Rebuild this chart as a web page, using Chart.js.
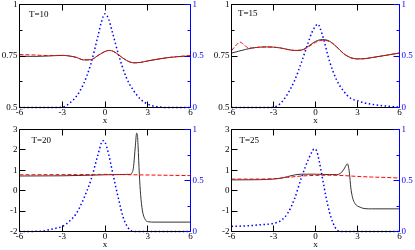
<!DOCTYPE html>
<html>
<head>
<meta charset="utf-8">
<script src="https://cdn.jsdelivr.net/npm/chart.js@4.4.0/dist/chart.umd.min.js"></script>
<style>
  html, body { margin: 0; padding: 0; background: #fff; }
  #wrap { position: relative; width: 415px; height: 250px; }
  #wrap canvas { position: absolute; left: 0; top: 0; width: 415px; height: 250px; }
</style>
</head>
<body>
<div id="wrap">
  <canvas id="c10" width="415" height="250"></canvas>
  <canvas id="c15" width="415" height="250"></canvas>
  <canvas id="c20" width="415" height="250"></canvas>
  <canvas id="c25" width="415" height="250"></canvas>
</div>
<script>
// ---- tick labels ----
const xTicks = [-6, -3, 0, 3, 6];
const leftMajorTop = [0.5, 0.75, 1];       // T=10, T=15 left axis
const leftMajorBottom = [-2, -1, 0, 1, 2, 3]; // T=20, T=25 left axis
const rightMajor = [0, 0.5, 1];

// ---- T=10 ----
const xK10 = [-6, -5, -4, -3, -2.5, -2, -1.5, -1, -0.5, 0, 0.3, 0.6, 1, 1.5, 2, 2.5, 3, 4, 5, 6];
const black10 = [0.749, 0.748, 0.750, 0.753, 0.750, 0.743, 0.731, 0.732, 0.752, 0.772, 0.777, 0.772, 0.753, 0.729, 0.717, 0.719, 0.726, 0.738, 0.746, 0.750];
const red10 = [0.757, 0.755, 0.752, 0.753, 0.750, 0.743, 0.731, 0.732, 0.752, 0.772, 0.777, 0.772, 0.753, 0.729, 0.717, 0.719, 0.726, 0.738, 0.747, 0.752];
const xB10 = [-6, -3.5, -3, -2.5, -2, -1.5, -1, -0.5, -0.25, 0, 0.25, 0.5, 1, 1.5, 2, 2.5, 3, 3.5, 4, 4.5, 6];
const blue10 = [0, 0, 0.003, 0.04, 0.11, 0.23, 0.42, 0.69, 0.83, 0.91, 0.86, 0.74, 0.49, 0.29, 0.165, 0.08, 0.033, 0.012, 0.002, 0, 0];

// ---- T=15 ----
const xK15 = [-6, -5.5, -5, -4.5, -4, -3.5, -3, -2.5, -2, -1.5, -1, -0.5, 0, 0.5, 1, 1.5, 2, 2.5, 3, 3.5, 4, 5, 6];
const black15 = [0.764, 0.773, 0.782, 0.789, 0.793, 0.794, 0.793, 0.789, 0.782, 0.777, 0.779, 0.798, 0.821, 0.830, 0.822, 0.795, 0.762, 0.742, 0.736, 0.737, 0.742, 0.753, 0.764];
const xR15 = [-6, -5.7, -5.4, -5.1, -4.8, -4.5, -4, -3.5, -3, -2.5, -2, -1.5, -1, -0.5, 0, 0.5, 1, 1.5, 2, 2.5, 3, 3.5, 4, 5, 6];
const red15 = [0.776, 0.800, 0.817, 0.805, 0.789, 0.789, 0.793, 0.794, 0.793, 0.789, 0.782, 0.777, 0.778, 0.795, 0.816, 0.826, 0.820, 0.795, 0.762, 0.742, 0.736, 0.737, 0.742, 0.753, 0.765];
const xB15 = [-6, -3.5, -3, -2.5, -2, -1.5, -1, -0.5, -0.25, 0, 0.15, 0.5, 1, 1.5, 2, 2.5, 3, 3.5, 4, 5, 6];
const blue15 = [0, 0, 0.003, 0.04, 0.13, 0.26, 0.44, 0.64, 0.73, 0.79, 0.81, 0.70, 0.45, 0.27, 0.16, 0.09, 0.065, 0.045, 0.032, 0.014, 0.003];

// ---- T=20 ----
const xK20 = [-6, -3, -1, 0, 1, 1.5, 1.76, 1.88, 1.99, 2.06, 2.13, 2.22, 2.27, 2.32, 2.41, 2.5, 2.62, 2.81, 3.04, 3.5, 6];
const black20 = [0.72, 0.73, 0.76, 0.78, 0.79, 0.80, 0.80, 0.86, 1.1, 1.6, 2.2, 2.82, 2.75, 2.2, 0.8, -0.2, -0.95, -1.40, -1.52, -1.54, -1.54];
const xR20 = [-6, -2, 0, 2, 4, 6];
const red20 = [0.78, 0.79, 0.80, 0.78, 0.76, 0.74];
const xB20 = [-6, -4.5, -4, -3.5, -3, -2.5, -2, -1.5, -1, -0.5, -0.25, -0.15, 0, 0.25, 0.5, 0.75, 1, 1.25, 1.5, 1.75, 2, 2.5, 6];
const blue20 = [0, 0.003, 0.015, 0.03, 0.05, 0.10, 0.18, 0.32, 0.50, 0.75, 0.87, 0.89, 0.875, 0.76, 0.60, 0.44, 0.29, 0.15, 0.065, 0.015, 0.002, 0, 0];

// ---- T=25 ----
const xK25 = [-6, -4, -3, -2.5, -2, -1.5, -1, 0, 1, 1.5, 1.76, 2.0, 2.15, 2.28, 2.36, 2.43, 2.52, 2.64, 2.83, 3.19, 3.54, 4, 6];
const black25 = [0.53, 0.54, 0.57, 0.61, 0.69, 0.77, 0.81, 0.81, 0.79, 0.79, 0.84, 1.02, 1.2, 1.32, 1.15, 0.83, 0.17, -0.32, -0.64, -0.81, -0.88, -0.89, -0.89];
const xR25 = [-6, -4, -3, -2, -1, 0, 1, 2, 3, 4, 5, 6];
const red25 = [0.57, 0.57, 0.59, 0.65, 0.72, 0.75, 0.76, 0.74, 0.70, 0.67, 0.65, 0.62];
const xB25 = [-6, -5, -4, -3, -2.5, -2, -1.5, -1, -0.5, -0.25, -0.1, 0.1, 0.25, 0.5, 0.75, 1, 1.25, 1.5, 1.75, 2, 6];
const blue25 = [0.05, 0.055, 0.065, 0.08, 0.105, 0.175, 0.32, 0.53, 0.71, 0.78, 0.81, 0.785, 0.70, 0.52, 0.34, 0.19, 0.085, 0.02, 0.002, 0, 0];

const BLUE = '#0000ff';
Chart.defaults.font.family = '"Liberation Serif", "Times New Roman", serif';
Chart.defaults.font.size = 9;
Chart.defaults.color = '#000';

const pts = (xs, ys) => xs.map((x, i) => ({ x: x, y: ys[i] }));

// inward ticks, frame and the T= label
const frameTicks = {
    id: 'frameTicks',
    afterDraw(chart, args, opts) {
        const { ctx, chartArea: a, scales } = chart;
        const snap = v => Math.round(v - 0.5) + 0.5;
        ctx.save();
        ctx.lineWidth = 1;
        ctx.strokeStyle = '#000';
        ctx.beginPath();
        scales.x.ticks.forEach(t => {
            const px = snap(scales.x.getPixelForValue(t.value));
            ctx.moveTo(px, a.bottom); ctx.lineTo(px, a.bottom - 6);
            ctx.moveTo(px, a.top); ctx.lineTo(px, a.top + 6);
        });
        scales.yL.ticks.forEach(t => {
            const py = snap(scales.yL.getPixelForValue(t.value));
            ctx.moveTo(a.left, py); ctx.lineTo(a.left + (t.label === '' ? 3 : 6), py);
        });
        ctx.moveTo(a.right, a.top); ctx.lineTo(a.left, a.top); ctx.lineTo(a.left, a.bottom); ctx.lineTo(a.right, a.bottom);
        ctx.stroke();

        ctx.strokeStyle = BLUE;
        ctx.beginPath();
        scales.yR.ticks.forEach(t => {
            const py = snap(scales.yR.getPixelForValue(t.value));
            ctx.moveTo(a.right, py); ctx.lineTo(a.right - (t.label === '' ? 3 : 6), py);
        });
        ctx.moveTo(a.right, a.top); ctx.lineTo(a.right, a.bottom);
        ctx.stroke();

        ctx.fillStyle = '#000';
        ctx.font = '9px "Liberation Serif", serif';
        ctx.textBaseline = 'middle';
        ctx.fillText(opts.text, a.left + opts.dx, a.top + opts.dy);
        ctx.restore();
    }
};

function makePanel(id, p) {
    const labelOf = majors => v => (majors.includes(v) ? String(v) : '');
    new Chart(document.getElementById(id), {
        type: 'line',
        data: {
            datasets: [
                { data: pts(p.xr, p.red), yAxisID: 'yL', borderColor: '#ff0000', borderWidth: 1, borderDash: [4, 2] },
                { data: pts(p.xk, p.black), yAxisID: 'yL', borderColor: '#333', borderWidth: 1 },
                { data: pts(p.xb, p.blue), yAxisID: 'yR', borderColor: BLUE, borderWidth: 1.5, borderDash: [1.5, 2.5] }
            ]
        },
        options: {
            responsive: false,
            animation: false,
            events: [],
            layout: { padding: p.pad },
            elements: {
                point: { radius: 0 },
                line: { cubicInterpolationMode: 'monotone', fill: false }
            },
            datasets: { line: { clip: 3 } },
            plugins: {
                legend: { display: false },
                tooltip: { enabled: false },
                frameTicks: { text: p.text, dx: p.tx, dy: p.ty }
            },
            scales: {
                x: {
                    type: 'linear', min: -6, max: 6,
                    grid: { display: false, drawTicks: false },
                    border: { display: false },
                    ticks: { stepSize: 3, padding: 0, maxRotation: 0, autoSkip: false,
                        callback: v => (xTicks.includes(v) ? String(v) : '') },
                    title: { display: true, text: 'x', padding: 0 },
                    afterFit: s => { s.height = p.hb; s.paddingLeft = 0; s.paddingRight = 0; }
                },
                yL: {
                    position: 'left', min: p.yMin, max: p.yMax,
                    grid: { display: false, drawTicks: false },
                    border: { display: false },
                    ticks: { stepSize: p.yStep, padding: 2, autoSkip: false, callback: labelOf(p.leftMajor) },
                    afterFit: s => { s.width = p.wl; s.paddingTop = 0; s.paddingBottom = 0; }
                },
                yR: {
                    position: 'right', min: 0, max: 1,
                    grid: { display: false, drawTicks: false },
                    border: { display: false },
                    ticks: { stepSize: 0.25, padding: 2, autoSkip: false, color: BLUE, callback: labelOf(rightMajor) },
                    afterFit: s => { s.width = p.wr; s.paddingTop = 0; s.paddingBottom = 0; }
                }
            }
        },
        plugins: [frameTicks]
    });
}

window.addEventListener('DOMContentLoaded', () => {
    const topY = { yMin: 0.5, yMax: 1, yStep: 0.125, leftMajor: leftMajorTop };
    const botY = { yMin: -2, yMax: 3, yStep: 1, leftMajor: leftMajorBottom };

    makePanel('c10', Object.assign({ text: 'T=10', tx: 9.5, ty: 10.5, xk: xK10, black: black10, xr: xK10, red: red10, xb: xB10, blue: blue10,
        wl: 19.5, wr: 20, hb: 19, pad: { left: 0, right: 204.5, top: 4.5, bottom: 123.5 } }, topY));
    makePanel('c15', Object.assign({ text: 'T=15', tx: 6.5, ty: 9, xk: xK15, black: black15, xr: xR15, red: red15, xb: xB15, blue: blue15,
        wl: 20, wr: 15, hb: 19, pad: { left: 211.5, right: 0.5, top: 4.5, bottom: 123.5 } }, topY));
    makePanel('c20', Object.assign({ text: 'T=20', tx: 12, ty: 11, xk: xK20, black: black20, xr: xR20, red: red20, xb: xB20, blue: blue20,
        wl: 19.5, wr: 20, hb: 18.5, pad: { left: 0, right: 204.5, top: 129.5, bottom: 0 } }, botY));
    makePanel('c25', Object.assign({ text: 'T=25', tx: 8, ty: 11.5, xk: xK25, black: black25, xr: xR25, red: red25, xb: xB25, blue: blue25,
        wl: 20, wr: 15, hb: 18.5, pad: { left: 211.5, right: 0.5, top: 129.5, bottom: 0 } }, botY));
});
</script>
</body>
</html>
